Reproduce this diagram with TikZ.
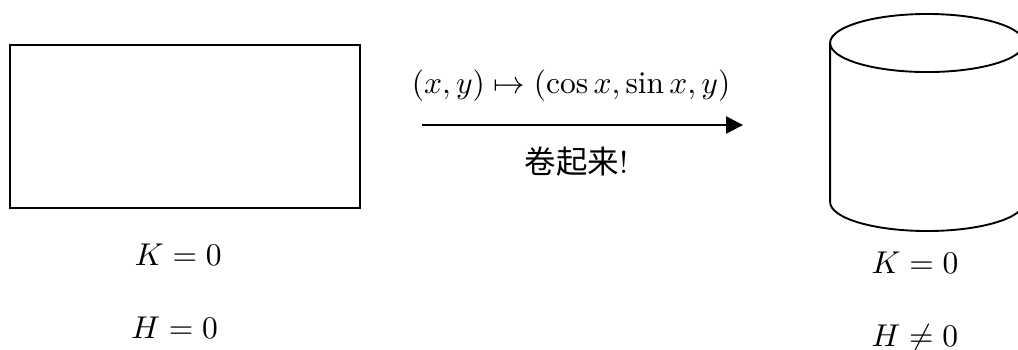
\documentclass[tikz,border=0pt]{standalone}
\usepackage{amsmath}
\usepackage{fontspec}
\newfontfamily\cjk{Noto Sans CJK SC}
\usetikzlibrary{arrows.meta}
\definecolor{ink}{HTML}{000000}
\tikzset{>=Triangle,
  edge/.style={draw=ink,line width=0.6pt},
  sheet/.style={draw=ink,line width=0.65pt,minimum width=3.906cm,minimum height=1.819cm,inner sep=0pt},
  map/.style={draw=ink,line width=0.65pt,-{Triangle[length=5.4pt,width=5.4pt]}},
  lab/.style={anchor=base,inner sep=1pt}}

\begin{document}
\begin{tikzpicture}
  \useasboundingbox (0,0) rectangle (11.36,3.895);
  % the flat sheet
  \node[sheet] (plane) at (2.065,2.4835) {};
  % rolling map
  \coordinate (mapL) at (4.71,2.5);
  \coordinate (mapR) at (8.292,2.5);
  \draw[map] (mapL) -- (mapR);
  \node[lab] (rule) at (6.373,2.857) {$(x,y)\mapsto(\cos x,\sin x,y)$};
  \node[lab] (roll) at (6.434,1.964) {{\cjk 卷起来}!};
  % the cylinder
  \draw[edge] (10.346,3.415) ellipse [x radius=1.083,y radius=0.324];
  \draw[edge] (9.263,3.415) -- (9.263,1.641)
    arc [start angle=180,end angle=360,x radius=1.083,y radius=0.324]
    -- (11.429,3.415);
  % curvatures
  \node[lab] (Kflat) at (1.99,0.9375) {$K=0$};
  \node[lab] (Hflat) at (1.948,0.1228) {$H=0$};
  \node[lab] (Kcyl) at (10.21,0.848) {$K=0$};
  \node[lab] (Hcyl) at (10.21,0.0335) {$H\neq0$};
\end{tikzpicture}
\end{document}
